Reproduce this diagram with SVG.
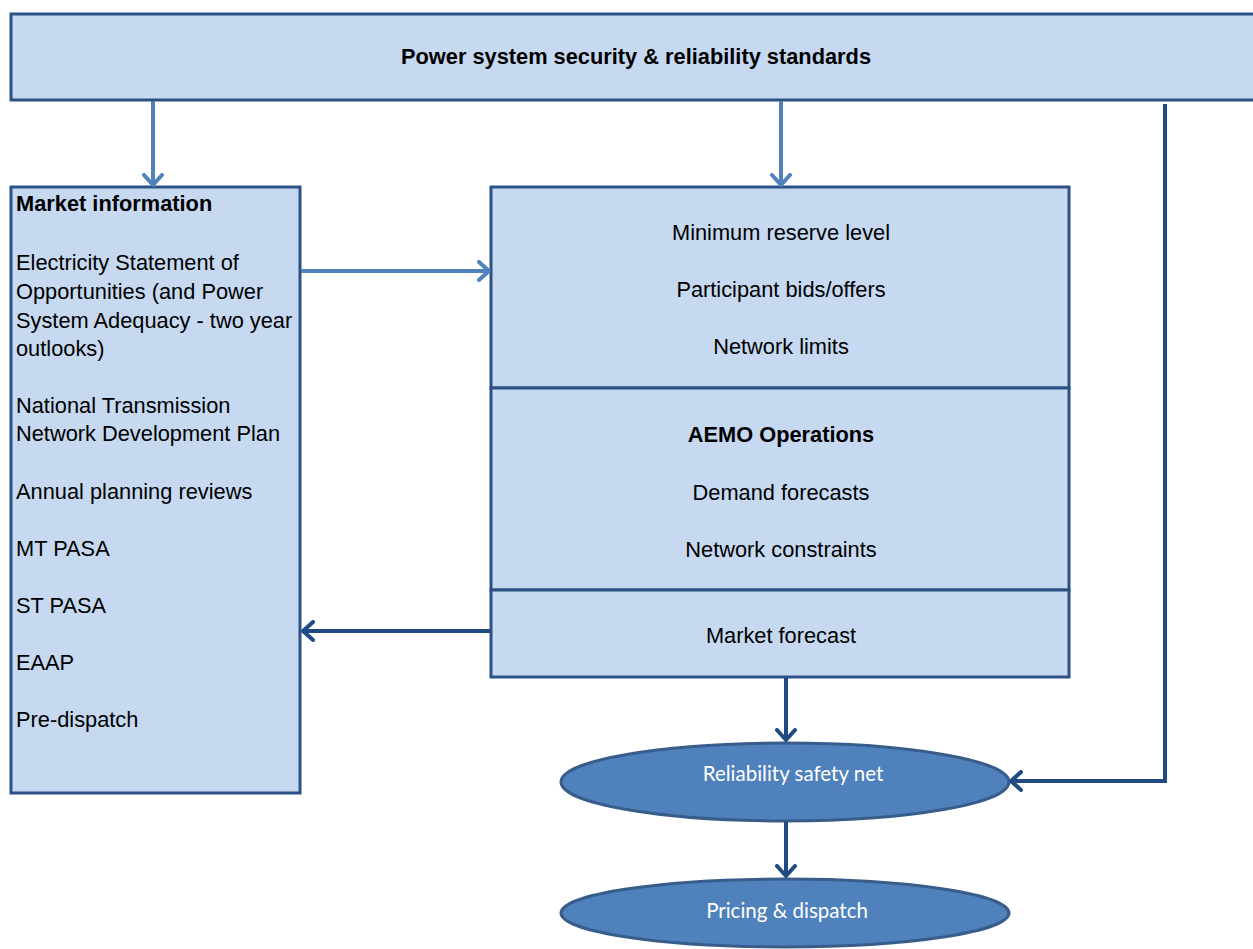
<svg xmlns="http://www.w3.org/2000/svg" width="1253" height="949" viewBox="0 0 1253 949">
  <style>
    .box { fill: #C6D9F1; stroke: #2C5185; stroke-width: 3; }
    .ell { fill: #4F81BD; stroke: #385D8A; stroke-width: 3; }
    .t { font-family: "Liberation Sans", Arial, sans-serif; font-size: 21.8px; fill: #000; }
    .b { font-weight: bold; }
    .c { text-anchor: middle; }
    .w { font-family: Lato, "Open Sans", sans-serif; font-size: 20.5px; fill: #FFFFFF; text-anchor: middle; }
    .light { fill: none; stroke: #4F81BD; stroke-width: 4; }
    .dark { fill: none; stroke: #1F4A82; stroke-width: 4; }
  </style>
  <defs>
    <marker id="ahLight" markerUnits="userSpaceOnUse" viewBox="0 0 14 22" refX="12" refY="11" markerWidth="14" markerHeight="22" orient="auto">
      <path d="M2,2 L12,11 L2,20" fill="none" stroke="#4F81BD" stroke-width="4" stroke-linecap="round" stroke-linejoin="round"/>
    </marker>
    <marker id="ahDark" markerUnits="userSpaceOnUse" viewBox="0 0 14 22" refX="12" refY="11" markerWidth="14" markerHeight="22" orient="auto">
      <path d="M2,2 L12,11 L2,20" fill="none" stroke="#1F4A82" stroke-width="4" stroke-linecap="round" stroke-linejoin="round"/>
    </marker>
  </defs>

  <g id="standards">
    <rect class="box" x="11" y="14" width="1250" height="86"/>
    <text class="t b c" x="636" y="64">Power system security &amp; reliability standards</text>
  </g>

  <g id="market-information">
    <rect class="box" x="11" y="187" width="289" height="606"/>
    <text class="t b" x="16" y="211">Market information</text>
    <text class="t" x="16" y="270">Electricity Statement of</text>
    <text class="t" x="16" y="299">Opportunities (and Power</text>
    <text class="t" x="16" y="328">System Adequacy - two year</text>
    <text class="t" x="16" y="356">outlooks)</text>
    <text class="t" x="16" y="413">National Transmission</text>
    <text class="t" x="16" y="441">Network Development Plan</text>
    <text class="t" x="16" y="499">Annual planning reviews</text>
    <text class="t" x="16" y="556">MT PASA</text>
    <text class="t" x="16" y="613">ST PASA</text>
    <text class="t" x="16" y="670">EAAP</text>
    <text class="t" x="16" y="727">Pre-dispatch</text>
  </g>

  <g id="inputs">
    <rect class="box" x="491" y="187" width="578" height="201"/>
    <text class="t c" x="781" y="240">Minimum reserve level</text>
    <text class="t c" x="781" y="297">Participant bids/offers</text>
    <text class="t c" x="781" y="354">Network limits</text>
  </g>

  <g id="aemo-operations">
    <rect class="box" x="491" y="388" width="578" height="202"/>
    <text class="t b c" x="781" y="442">AEMO Operations</text>
    <text class="t c" x="781" y="500">Demand forecasts</text>
    <text class="t c" x="781" y="557">Network constraints</text>
  </g>

  <g id="market-forecast">
    <rect class="box" x="491" y="590" width="578" height="87"/>
    <text class="t c" x="781" y="643">Market forecast</text>
  </g>

  <g id="reliability-safety-net">
    <ellipse class="ell" cx="785" cy="782" rx="224" ry="39"/>
    <text class="w" x="793" y="781">Reliability safety net</text>
  </g>

  <g id="pricing-dispatch">
    <ellipse class="ell" cx="785" cy="913" rx="224" ry="34"/>
    <text class="w" x="787" y="918">Pricing &amp; dispatch</text>
  </g>

  <g id="connectors">
    <path class="light" d="M153,101 V185" marker-end="url(#ahLight)"/>
    <path class="light" d="M781,101 V185" marker-end="url(#ahLight)"/>
    <path class="light" d="M301,271 H489" marker-end="url(#ahLight)"/>
    <path class="dark" d="M490,631 H303" marker-end="url(#ahDark)"/>
    <path class="dark" d="M786,678 V740" marker-end="url(#ahDark)"/>
    <path class="dark" d="M786,822 V876" marker-end="url(#ahDark)"/>
    <path class="dark" d="M1165,104 V781 H1011" marker-end="url(#ahDark)"/>
  </g>
</svg>
